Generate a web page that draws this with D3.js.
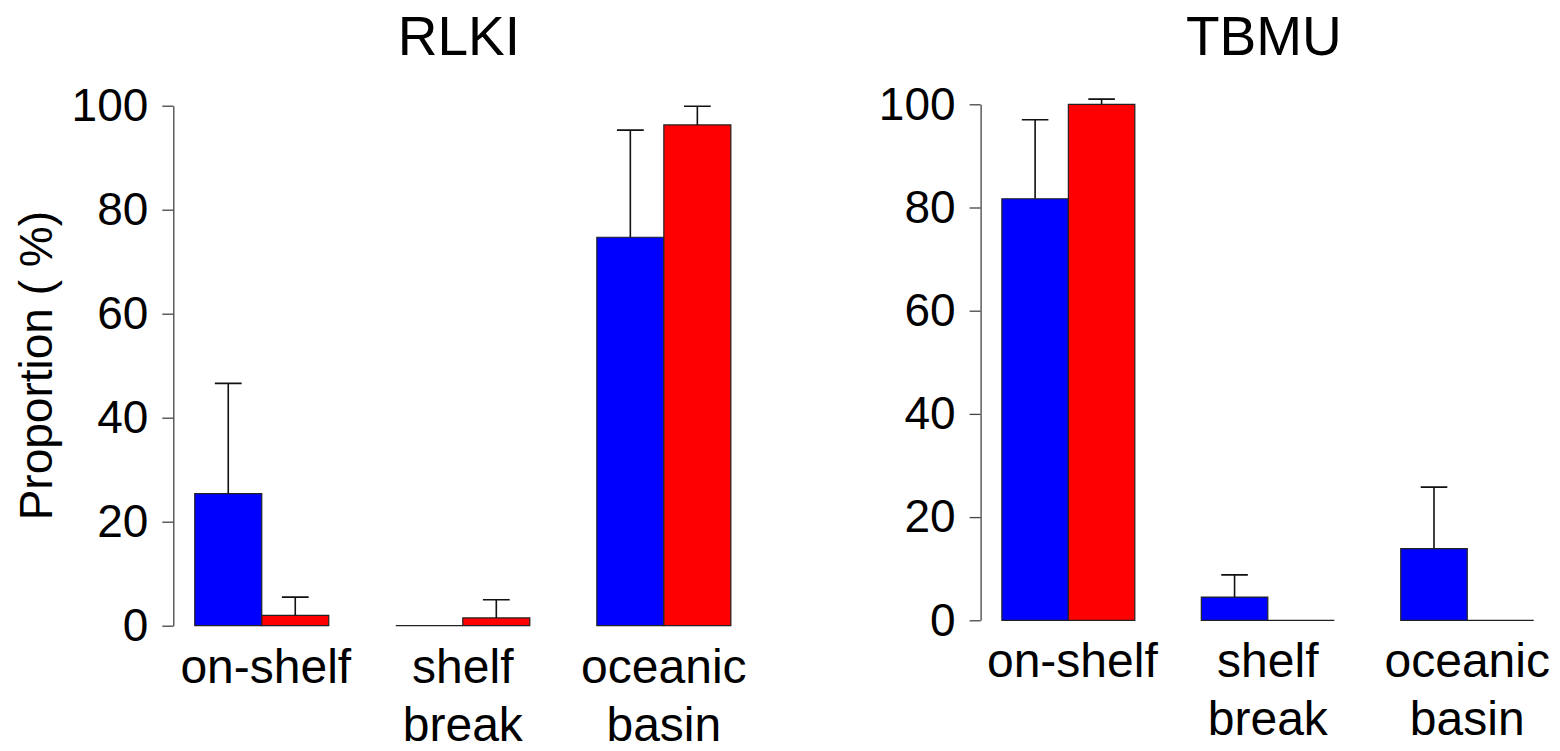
<!DOCTYPE html>
<html>
<head>
<meta charset="utf-8">
<script src="https://cdn.jsdelivr.net/npm/d3@7"></script>
<style>
  body { margin: 0; background: #fff; }
  svg { display: block; font-family: "Liberation Sans", Arial, sans-serif; }
  .tick text { font-size: 46px; fill: #000; }
</style>
</head>
<body>
<svg id="chart"></svg>
<script>
// categories (multi-line labels)
const categories = [["on-shelf"], ["shelf", "break"], ["oceanic", "basin"]];
const yTicks = [0, 20, 40, 60, 80, 100];

// RLKI: means and mean+SD tops
const rlkiBlue = [25.4, 0, 74.7];
const rlkiBlueErr = [46.6, null, 95.3];
const rlkiRed = [2.0, 1.5, 96.3];
const rlkiRedErr = [5.5, 5.0, 99.9];

// TBMU
const tbmuBlue = [81.7, 4.5, 13.9];
const tbmuBlueErr = [97.0, 8.8, 25.8];
const tbmuRed = [100, 0, 0];
const tbmuRedErr = [101, null, null];

const w = 1560, h = 751;
const svg = d3.select("#chart").attr("width", w).attr("height", h);

const panels = [
  { title: "RLKI", blue: rlkiBlue, blueErr: rlkiBlueErr, red: rlkiRed, redErr: rlkiRedErr,
    x0: 173.3, x1: 752.3, y0: 625.7, y1: 105.7, ylabel: true },
  { title: "TBMU", blue: tbmuBlue, blueErr: tbmuBlueErr, red: tbmuRed, redErr: tbmuRedErr,
    x0: 980.6, x1: 1555, y0: 620.3, y1: 104.3, ylabel: false }
];

panels.forEach(p => {
  const g = svg.append("g");
  // R style barplot units: bars at 1..9, 4% padding
  const x = d3.scaleLinear().domain([0.68, 9.32]).range([p.x0, p.x1]);
  const y = d3.scaleLinear().domain([0, 100]).range([p.y0, p.y1]);

  const bars = [];
  categories.forEach((c, i) => {
    bars.push({ left: 1 + 3 * i, v: p.blue[i], err: p.blueErr[i], color: "#0000ff" });
    bars.push({ left: 2 + 3 * i, v: p.red[i], err: p.redErr[i], color: "#ff0000" });
  });

  // bars as closed paths so zero bars still show as a line
  g.selectAll(".bar").data(bars).enter().append("path")
    .attr("class", "bar")
    .attr("d", d => `M${x(d.left)},${y(0)}V${y(d.v)}H${x(d.left + 1)}V${y(0)}Z`)
    .attr("fill", d => d.color)
    .attr("stroke", "#222")
    .attr("stroke-width", 1.2);

  // error bars (upper only)
  const eb = bars.filter(d => d.err != null);
  const capHalf = (x(1.2) - x(1));
  g.selectAll(".err").data(eb).enter().append("path")
    .attr("class", "err")
    .attr("d", d => {
      const cx = x(d.left + 0.5);
      return `M${cx},${y(d.v)}V${y(d.err)}M${cx - capHalf},${y(d.err)}H${cx + capHalf}`;
    })
    .attr("fill", "none")
    .attr("stroke", "#111")
    .attr("stroke-width", 1.6);

  // y axis
  const yAxis = d3.axisLeft(y).tickValues(yTicks).tickSize(11).tickSizeOuter(0).tickPadding(14);
  const ax = g.append("g")
    .attr("transform", "translate(" + p.x0 + ",0)")
    .call(yAxis);
  ax.select(".domain").attr("stroke", "#444").attr("stroke-width", 1.3);
  ax.selectAll(".tick line").attr("stroke", "#444").attr("stroke-width", 1.3);
  ax.selectAll(".tick text").attr("font-family", "Liberation Sans, Arial, sans-serif");

  // category labels
  categories.forEach((lines, i) => {
    const cx = x(2 + 3 * i) + (i === 0 ? 4 : 0);
    const t = g.append("text")
      .attr("x", cx)
      .attr("text-anchor", "middle")
      .style("font-size", "48px");
    lines.forEach((ln, k) => {
      t.append("tspan").attr("x", cx).attr("y", p.y0 + 57 + k * 58).text(ln);
    });
  });

  // title
  g.append("text")
    .attr("x", (p.x0 + p.x1) / 2 - 4)
    .attr("y", 55)
    .attr("text-anchor", "middle")
    .style("font-size", "55px")
    .text(p.title);

  if (p.ylabel) {
    g.append("text")
      .attr("transform", "translate(52," + (p.y0 + p.y1) / 2 + ") rotate(-90)")
      .attr("text-anchor", "middle")
      .style("font-size", "46px")
      .text("Proportion ( %)");
  }
});
</script>
</body>
</html>
